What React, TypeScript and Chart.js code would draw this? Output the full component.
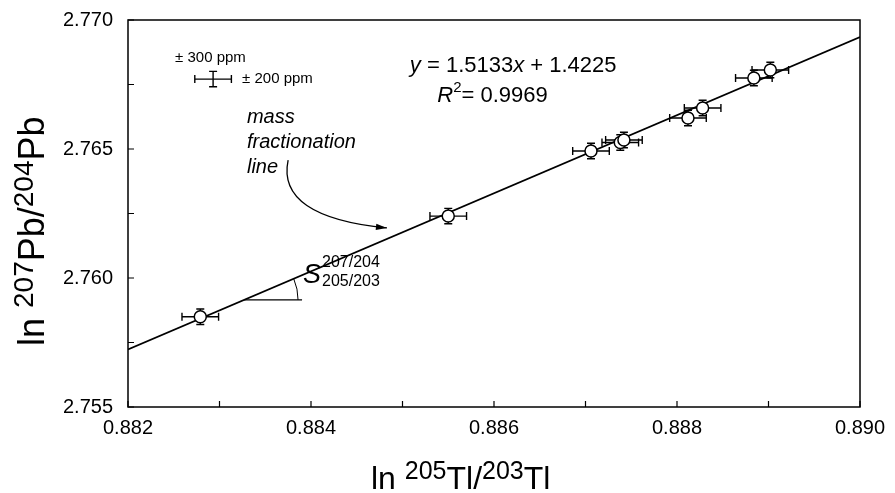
import React, { useEffect, useRef } from 'react';
import { Chart, registerables } from 'chart.js';

Chart.register(...registerables);

// ---- data ----
const tlRatio = [0.88279, 0.8855, 0.88706, 0.88738, 0.88742, 0.88812, 0.88828, 0.88884, 0.88902];
const pbRatio = [2.7585, 2.7624, 2.76492, 2.76525, 2.76535, 2.7662, 2.76659, 2.76775, 2.76806];
const tlErr = [0.0002, 0.0002, 0.0002, 0.0002, 0.0002, 0.0002, 0.0002, 0.0002, 0.0002];
const pbErr = [0.0003, 0.0003, 0.0003, 0.0003, 0.0003, 0.0003, 0.0003, 0.0003, 0.0003];

const fitX = [0.882, 0.89];
const fitY = [2.75723, 2.76934];

const xTickValues = [0.882, 0.883, 0.884, 0.885, 0.886, 0.887, 0.888, 0.889, 0.89];
const xTickLabels = ['0.882', '', '0.884', '', '0.886', '', '0.888', '', '0.890'];
const yTickValues = [2.755, 2.7575, 2.76, 2.7625, 2.765, 2.7675, 2.77];
const yTickLabels = ['2.755', '', '2.760', '', '2.765', '', '2.770'];

const legendBarX = 0.88293;
const legendBarY = 2.76771;
const legendXErr = 0.0002;
const legendYErr = 0.0003;

const FONT = '"Liberation Sans", Arial, Helvetica, sans-serif';

type Seg = { t: string; size: number; italic?: boolean; dy?: number };

function segWidth(ctx: CanvasRenderingContext2D, segs: Seg[]) {
  let w = 0;
  for (const s of segs) {
    ctx.font = `${s.italic ? 'italic ' : ''}${s.size}px ${FONT}`;
    w += ctx.measureText(s.t).width;
  }
  return w;
}

function drawSegs(ctx: CanvasRenderingContext2D, segs: Seg[], x: number, y: number) {
  let cx = x;
  ctx.textAlign = 'left';
  ctx.textBaseline = 'alphabetic';
  for (const s of segs) {
    ctx.font = `${s.italic ? 'italic ' : ''}${s.size}px ${FONT}`;
    ctx.fillText(s.t, cx, y + (s.dy || 0));
    cx += ctx.measureText(s.t).width;
  }
}

function drawErrorBar(ctx: CanvasRenderingContext2D, xs: any, ys: any, x: number, y: number, ex: number, ey: number) {
  const cx = xs.getPixelForValue(x);
  const cy = ys.getPixelForValue(y);
  const x0 = xs.getPixelForValue(x - ex);
  const x1 = xs.getPixelForValue(x + ex);
  const y0 = ys.getPixelForValue(y - ey);
  const y1 = ys.getPixelForValue(y + ey);
  const cap = 4;
  ctx.beginPath();
  ctx.moveTo(x0, cy); ctx.lineTo(x1, cy);
  ctx.moveTo(x0, cy - cap); ctx.lineTo(x0, cy + cap);
  ctx.moveTo(x1, cy - cap); ctx.lineTo(x1, cy + cap);
  ctx.moveTo(cx, y0); ctx.lineTo(cx, y1);
  ctx.moveTo(cx - cap, y0); ctx.lineTo(cx + cap, y0);
  ctx.moveTo(cx - cap, y1); ctx.lineTo(cx + cap, y1);
  ctx.stroke();
}

const decorPlugin = {
  id: 'decor',
  beforeDatasetsDraw(chart: any) {
    const ctx: CanvasRenderingContext2D = chart.ctx;
    const xs = chart.scales.x;
    const ys = chart.scales.y;
    ctx.save();
    ctx.strokeStyle = '#000';
    ctx.lineWidth = 1.4;
    for (let i = 0; i < tlRatio.length; i++) {
      drawErrorBar(ctx, xs, ys, tlRatio[i], pbRatio[i], tlErr[i], pbErr[i]);
    }
    ctx.restore();
  },
  afterDraw(chart: any) {
    const ctx: CanvasRenderingContext2D = chart.ctx;
    const xs = chart.scales.x;
    const ys = chart.scales.y;
    const ca = chart.chartArea;
    const X = (v: number) => xs.getPixelForValue(v);
    const Y = (v: number) => ys.getPixelForValue(v);
    ctx.save();
    ctx.strokeStyle = '#000';
    ctx.fillStyle = '#000';

    // frame
    ctx.lineWidth = 1.5;
    ctx.strokeRect(ca.left, ca.top, ca.right - ca.left, ca.bottom - ca.top);

    // inward ticks
    ctx.lineWidth = 1.2;
    ctx.beginPath();
    for (const v of xTickValues) {
      const px = X(v);
      ctx.moveTo(px, ca.bottom); ctx.lineTo(px, ca.bottom - 6);
    }
    for (const v of yTickValues) {
      const py = Y(v);
      ctx.moveTo(ca.left, py); ctx.lineTo(ca.left + 6, py);
    }
    ctx.stroke();

    // legend error bar
    ctx.lineWidth = 1.4;
    drawErrorBar(ctx, xs, ys, legendBarX, legendBarY, legendXErr, legendYErr);
    const lbx = X(legendBarX), lby = Y(legendBarY);
    ctx.font = `15px ${FONT}`;
    ctx.textBaseline = 'middle';
    ctx.textAlign = 'left';
    ctx.fillText('\u00B1 300 ppm', lbx - 38, lby - 21);
    ctx.fillText('\u00B1 200 ppm', lbx + 29, lby);

    // equation
    drawSegs(ctx, [
      { t: 'y', size: 22, italic: true },
      { t: ' = 1.5133', size: 22 },
      { t: 'x', size: 22, italic: true },
      { t: ' + 1.4225', size: 22 },
    ], X(0.88508), Y(2.76798));
    drawSegs(ctx, [
      { t: 'R', size: 22, italic: true },
      { t: '2', size: 15, dy: -10 },
      { t: '= 0.9969', size: 22 },
    ], X(0.88538), Y(2.76682));

    // mass fractionation line label
    ctx.font = `italic 20px ${FONT}`;
    ctx.textAlign = 'left';
    ctx.textBaseline = 'alphabetic';
    const mx = X(0.8833);
    ctx.fillText('mass', mx, Y(2.76601));
    ctx.fillText('fractionation', mx, Y(2.76504));
    ctx.fillText('line', mx, Y(2.76407));

    // arrow
    const ax0 = X(0.88375), ay0 = Y(2.76457);
    const acx = X(0.88362), acy = Y(2.76237);
    const ax1 = X(0.88483), ay1 = Y(2.76194);
    ctx.lineWidth = 1.3;
    ctx.beginPath();
    ctx.moveTo(ax0, ay0);
    ctx.quadraticCurveTo(acx, acy, ax1, ay1);
    ctx.stroke();
    const ang = Math.atan2(ay1 - acy, ax1 - acx);
    const hl = 11, hw = 3.2;
    ctx.beginPath();
    ctx.moveTo(ax1, ay1);
    ctx.lineTo(ax1 - hl * Math.cos(ang) + hw * Math.sin(ang), ay1 - hl * Math.sin(ang) - hw * Math.cos(ang));
    ctx.lineTo(ax1 - hl * Math.cos(ang) - hw * Math.sin(ang), ay1 - hl * Math.sin(ang) + hw * Math.cos(ang));
    ctx.closePath();
    ctx.fill();

    // slope annotation: horizontal reference line + arc
    const hy = 2.75915;
    const slope = (fitY[1] - fitY[0]) / (fitX[1] - fitX[0]);
    const ix = fitX[0] + (hy - fitY[0]) / slope;
    const ipx = X(ix), ipy = Y(hy);
    const pxSlope = (Y(fitY[0]) - Y(fitY[1])) / (X(fitX[1]) - X(fitX[0]));
    const theta = Math.atan(pxSlope);
    ctx.lineWidth = 1.2;
    ctx.beginPath();
    ctx.moveTo(ipx, ipy);
    ctx.lineTo(ipx + 58, ipy);
    ctx.stroke();
    ctx.lineWidth = 1;
    ctx.beginPath();
    ctx.arc(ipx, ipy, 54, -theta, 0);
    ctx.stroke();
    ctx.font = `italic 27px ${FONT}`;
    ctx.fillText('S', ipx + 59, ipy - 17);
    ctx.font = `16px ${FONT}`;
    ctx.fillText('207/204', ipx + 78, ipy - 33);
    ctx.fillText('205/203', ipx + 78, ipy - 14);

    // axis titles
    const xt: Seg[] = [
      { t: 'ln ', size: 32 },
      { t: '205', size: 25, dy: -10 },
      { t: 'Tl/', size: 32 },
      { t: '203', size: 25, dy: -10 },
      { t: 'Tl', size: 32 },
    ];
    drawSegs(ctx, xt, 371, 489);

    const yt: Seg[] = [
      { t: 'ln ', size: 36 },
      { t: '207', size: 28, dy: -11 },
      { t: 'Pb/', size: 36 },
      { t: '204', size: 28, dy: -11 },
      { t: 'Pb', size: 36 },
    ];
    ctx.save();
    ctx.translate(44, 346);
    ctx.rotate(-Math.PI / 2);
    drawSegs(ctx, yt, 0, 0);
    ctx.restore();

    ctx.restore();
  },
};

export default function App() {
  const ref = useRef<HTMLCanvasElement | null>(null);
  useEffect(() => {
    if (!ref.current) return;
    const points = tlRatio.map((x, i) => ({ x, y: pbRatio[i] }));
    const fit = fitX.map((x, i) => ({ x, y: fitY[i] }));
    const chart = new Chart(ref.current, {
      type: 'scatter',
      data: {
        datasets: [
          {
            type: 'scatter',
            data: points,
            pointRadius: 6,
            pointHoverRadius: 6,
            pointBackgroundColor: '#fff',
            pointBorderColor: '#000',
            pointBorderWidth: 1.5,
            order: 0,
          } as any,
          {
            type: 'line',
            data: fit,
            borderColor: '#000',
            borderWidth: 1.6,
            pointRadius: 0,
            fill: false,
            showLine: true,
            order: 1,
          } as any,
        ],
      },
      options: {
        responsive: false,
        animation: false,
        devicePixelRatio: 1,
        layout: { padding: { top: 20, right: 35, left: 0, bottom: 0 } },
        plugins: { legend: { display: false }, tooltip: { enabled: false } },
        scales: {
          x: {
            type: 'linear',
            min: 0.882,
            max: 0.89,
            afterBuildTicks: (s: any) => { s.ticks = xTickValues.map((v) => ({ value: v })); },
            afterFit: (s: any) => {
              s.height = 86;
              s.paddingLeft = 0; s.paddingRight = 0; s.paddingTop = 0; s.paddingBottom = 0;
            },
            grid: { display: false, drawTicks: false },
            border: { display: false },
            ticks: {
              callback: (_v: any, i: number) => xTickLabels[i],
              font: { size: 20, family: FONT },
              color: '#000',
              padding: 9,
              maxRotation: 0,
              autoSkip: false,
            },
          },
          y: {
            type: 'linear',
            min: 2.755,
            max: 2.77,
            afterBuildTicks: (s: any) => { s.ticks = yTickValues.map((v) => ({ value: v })); },
            afterFit: (s: any) => {
              s.width = 128;
              s.paddingLeft = 0; s.paddingRight = 0; s.paddingTop = 0; s.paddingBottom = 0;
            },
            grid: { display: false, drawTicks: false },
            border: { display: false },
            ticks: {
              callback: (_v: any, i: number) => yTickLabels[i],
              font: { size: 20, family: FONT },
              color: '#000',
              padding: 15,
              autoSkip: false,
            },
          },
        },
      } as any,
      plugins: [decorPlugin],
    });
    return () => chart.destroy();
  }, []);
  return (
    <div style={{ position: 'fixed', left: 0, top: 0, width: 895, height: 493, background: '#fff' }}>
      <canvas ref={ref} width={895} height={493} style={{ width: 895, height: 493 }} />
    </div>
  );
}
